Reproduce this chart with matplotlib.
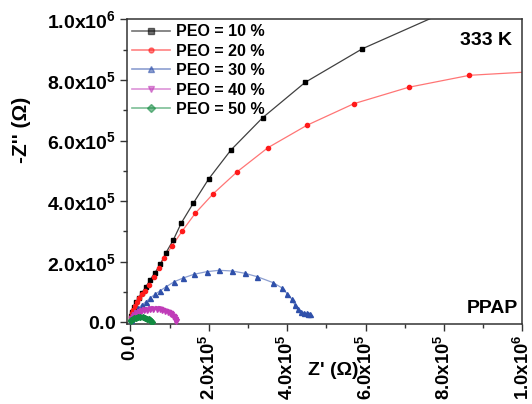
import matplotlib
matplotlib.use("Agg")
import matplotlib.pyplot as plt
from matplotlib.ticker import FixedLocator, FixedFormatter, MultipleLocator

plt.rcParams['font.family'] = ['Liberation Sans', 'DejaVu Sans']
plt.rcParams['font.weight'] = 'bold'
plt.rcParams['mathtext.fontset'] = 'custom'
plt.rcParams['mathtext.rm'] = 'Liberation Sans:bold'
plt.rcParams['mathtext.bf'] = 'Liberation Sans:bold'
plt.rcParams['mathtext.it'] = 'Liberation Sans:bold'

SCALE = 1e5  # values below are in units of 1e5 ohm

# Nyquist data (Z', -Z'') for PPAP films at 333 K
z_re_10 = [0.008, 0.020, 0.036, 0.094, 0.153, 0.222, 0.298, 0.40, 0.502, 0.629, 0.765,
           0.902, 1.096, 1.30, 1.605, 1.998, 2.566, 3.374, 4.46, 5.92, 8.15]
z_im_10 = [0.08, 0.20, 0.35, 0.515, 0.66, 0.81, 0.977, 1.175, 1.396, 1.637, 1.914,
           2.277, 2.716, 3.277, 3.927, 4.729, 5.686, 6.752, 7.92, 9.03, 10.31]

z_re_20 = [0.008, 0.020, 0.040, 0.070, 0.110, 0.160, 0.220, 0.290, 0.367, 0.484, 0.596,
           0.724, 0.866, 1.063, 1.325, 1.656, 2.115, 2.727, 3.509, 4.503, 5.701,
           7.095, 8.649, 10.57]
z_im_20 = [0.08, 0.19, 0.30, 0.42, 0.54, 0.66, 0.79, 0.92, 1.043, 1.231, 1.485,
           1.802, 2.132, 2.518, 3.013, 3.597, 4.244, 4.970, 5.762, 6.502, 7.215,
           7.756, 8.152, 8.294]

z_re_30 = [0.010, 0.025, 0.051, 0.120, 0.204, 0.291, 0.392, 0.502, 0.629, 0.765, 0.917,
           1.121, 1.351, 1.623, 1.947, 2.268, 2.599, 2.923, 3.237, 3.644, 3.858,
           4.001, 4.113, 4.197, 4.266, 4.350, 4.427, 4.495, 4.540, 4.580]
z_im_30 = [0.08, 0.16, 0.241, 0.350, 0.462, 0.571, 0.670, 0.792, 0.924, 1.043, 1.175,
           1.340, 1.462, 1.584, 1.670, 1.716, 1.693, 1.617, 1.505, 1.307, 1.142,
           0.944, 0.769, 0.571, 0.429, 0.350, 0.317, 0.297, 0.285, 0.274]

z_re_40 = [0.01, 0.03, 0.06, 0.10, 0.15, 0.21, 0.28, 0.35, 0.43, 0.51, 0.59, 0.67,
           0.75, 0.82, 0.89, 0.95, 1.00, 1.05, 1.08, 1.11, 1.13, 1.145, 1.155]
z_im_40 = [0.05, 0.12, 0.19, 0.25, 0.30, 0.34, 0.375, 0.40, 0.42, 0.435, 0.44, 0.44,
           0.43, 0.41, 0.385, 0.35, 0.31, 0.26, 0.21, 0.16, 0.11, 0.07, 0.035]

z_re_50 = [0.01, 0.03, 0.06, 0.10, 0.15, 0.20, 0.26, 0.32, 0.38, 0.43, 0.47, 0.50,
           0.53, 0.55]
z_im_50 = [0.03, 0.07, 0.10, 0.13, 0.15, 0.16, 0.165, 0.16, 0.145, 0.12, 0.095, 0.065,
           0.035, 0.01]

labels = ['PEO = 10 %', 'PEO = 20 %', 'PEO = 30 %', 'PEO = 40 %', 'PEO = 50 %']
colors = ['#000000', '#ff1a1a', '#2f50aa', '#c03cb8', '#128a40']
line_alpha = [0.75, 0.6, 0.55, 0.55, 0.55]
markers = ['s', 'o', '^', 'v', 'D']
msizes = [3.5, 3.0, 3.6, 3.6, 3.0]

xtick_vals = [0, 2e5, 4e5, 6e5, 8e5, 1e6]
xtick_labels = [r'$\mathrm{0.0}$', r'$\mathrm{2.0x10^{5}}$', r'$\mathrm{4.0x10^{5}}$',
                r'$\mathrm{6.0x10^{5}}$', r'$\mathrm{8.0x10^{5}}$', r'$\mathrm{1.0x10^{6}}$']
ytick_vals = [0, 2e5, 4e5, 6e5, 8e5, 1e6]
ytick_labels = xtick_labels

fig = plt.figure(figsize=(5.32, 4.04), dpi=100)
ax = fig.add_axes([0.2393, 0.1973, 0.7428, 0.7549])

series = [(z_re_10, z_im_10), (z_re_20, z_im_20), (z_re_30, z_im_30),
          (z_re_40, z_im_40), (z_re_50, z_im_50)]
for (xr, yi), lab, c, a, m, ms in zip(series, labels, colors, line_alpha, markers, msizes):
    xs = [v * SCALE for v in xr]
    ys = [v * SCALE for v in yi]
    ax.plot(xs, ys, color=c, lw=0.9, alpha=a, zorder=2)
    ax.plot(xs, ys, ls='none', marker=m, ms=ms, color=c, mec=c, zorder=3)
    ax.plot([], [], color=c, lw=1.2, alpha=0.55, marker=m, ms=ms + 0.6,
            mfc=c, mec=c, label=lab)

ax.set_xlim(-7600, 1.0e6)
ax.set_ylim(-6600, 1.0e6)

ax.xaxis.set_major_locator(FixedLocator(xtick_vals))
ax.xaxis.set_major_formatter(FixedFormatter(xtick_labels))
ax.yaxis.set_major_locator(FixedLocator(ytick_vals))
ax.yaxis.set_major_formatter(FixedFormatter(ytick_labels))
ax.xaxis.set_minor_locator(MultipleLocator(1e5))
ax.yaxis.set_minor_locator(MultipleLocator(1e5))

ax.tick_params(which='both', direction='out', top=False, right=False,
               width=1.0, color='#333333', labelsize=14)
ax.tick_params(which='major', length=5)
ax.tick_params(which='minor', length=3)
ax.tick_params(axis='y', pad=3)
ax.tick_params(axis='x', pad=2, labelsize=13.3)
for lbl in ax.get_xticklabels():
    lbl.set_rotation(90)
    lbl.set_va('top')
    lbl.set_ha('center')

for sp in ax.spines.values():
    sp.set_linewidth(1.1)
    sp.set_color('#333333')

leg = ax.legend(loc='upper left', frameon=False,
                prop={'family': 'Liberation Sans', 'weight': 'bold', 'size': 11.5},
                handlelength=2.4, handletextpad=0.35, labelspacing=0.28,
                borderpad=0.0, borderaxespad=0.3, numpoints=1)

ax.text(0.973, 0.958, '333 K', transform=ax.transAxes, ha='right', va='top',
        fontsize=14, fontweight='bold')
ax.text(0.989, 0.023, 'PPAP', transform=ax.transAxes, ha='right', va='bottom',
        fontsize=14, fontweight='bold')

fig.text(0.626, 0.084, "Z' (\u03a9)", ha='center', va='center', fontsize=14,
         fontweight='bold')
fig.text(0.041, 0.678, "-Z'' (\u03a9)", ha='center', va='center', rotation=90,
         fontsize=15, fontweight='bold')

fig.savefig('out.png', dpi=100)
